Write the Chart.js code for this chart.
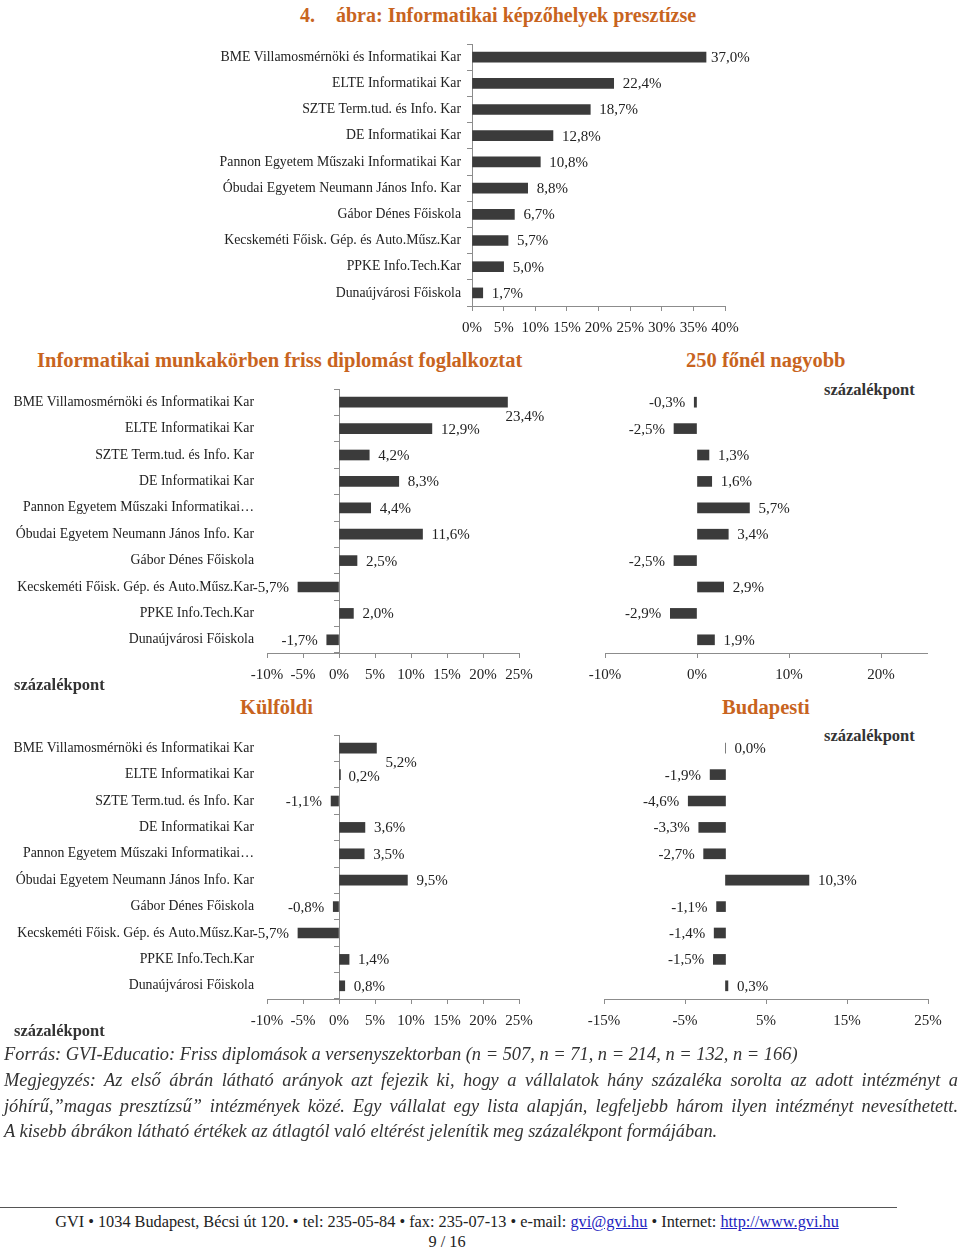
<!DOCTYPE html>
<html lang="hu">
<head>
<meta charset="utf-8">
<script src="https://cdn.jsdelivr.net/npm/chart.js@4.4.1/dist/chart.umd.min.js"></script>
<style>
  html, body { margin: 0; padding: 0; background: #fff; }
  body { width: 960px; height: 1251px; position: relative; overflow: hidden; font-family: 'Liberation Serif', serif; color: #222; }
  canvas { position: absolute; }
  .t { position: absolute; white-space: nowrap; }
  .orange { color: #c8641e; font-weight: bold; font-size: 20.5px; line-height: 22px; }
  .title { font-size: 20px; }
  .pp { font-weight: bold; font-size: 16.5px; line-height: 18px; color: #333; }
  .note { position: absolute; left: 4px; width: 954px; font-style: italic; font-size: 18.4px; line-height: 20px; color: #333; white-space: nowrap; }
  .just { text-align: justify; text-align-last: justify; white-space: normal; }
  .foot { position: absolute; left: 0; width: 894px; text-align: center; font-size: 16.3px; line-height: 17px; color: #222; }
  .foot a { color: #1f1fbf; text-decoration: underline; }
</style>
</head>
<body>
<div class="t orange title" style="left:300px; top:4px;">4.<span style="display:inline-block;width:21px"></span>ábra: Informatikai képzőhelyek presztízse</div>
<canvas id="c1" width="960" height="345" style="left:0;top:0"></canvas>

<div class="t orange" style="left:37px; top:349px;">Informatikai munkakörben friss diplomást foglalkoztat</div>
<div class="t orange" style="left:686px; top:349px;">250 főnél nagyobb</div>
<div class="t pp" style="left:824px; top:381px;">százalékpont</div>
<canvas id="c2" width="560" height="345" style="left:0;top:340px"></canvas>
<canvas id="c3" width="400" height="345" style="left:560px;top:340px"></canvas>
<div class="t pp" style="left:14px; top:676px;">százalékpont</div>

<div class="t orange" style="left:240px; top:696px;">Külföldi</div>
<div class="t orange" style="left:722px; top:696px;">Budapesti</div>
<div class="t pp" style="left:824px; top:727px;">százalékpont</div>
<canvas id="c4" width="560" height="345" style="left:0;top:690px"></canvas>
<canvas id="c5" width="400" height="345" style="left:560px;top:690px"></canvas>
<div class="t pp" style="left:14px; top:1022px;">százalékpont</div>

<div class="note" style="top:1044px;">Forrás: GVI-Educatio: Friss diplomások a versenyszektorban (n = 507, n = 71, n = 214, n = 132, n = 166)</div>
<div class="note just" style="top:1070px;">Megjegyzés: Az első ábrán látható arányok azt fejezik ki, hogy a vállalatok hány százaléka sorolta az adott intézményt a</div>
<div class="note just" style="top:1096px;">jóhírű,”magas presztízsű” intézmények közé. Egy vállalat egy lista alapján, legfeljebb három ilyen intézményt nevesíthetett.</div>
<div class="note" style="top:1121px;">A kisebb ábrákon látható értékek az átlagtól való eltérést jelenítik meg százalékpont formájában.</div>

<div style="position:absolute;left:0;top:1207px;width:897px;height:0;border-top:1.5px solid #555;"></div>
<div class="foot" style="top:1213px;">GVI • 1034 Budapest, Bécsi út 120. • tel: 235-05-84 • fax: 235-07-13 • e-mail: <a>gvi@gvi.hu</a> • Internet: <a>http://www.gvi.hu</a></div>
<div class="foot" style="top:1233px;">9 / 16</div>

<script>
// ---------- DATA ----------
const categories = [
  'BME Villamosmérnöki és Informatikai Kar',
  'ELTE Informatikai Kar',
  'SZTE Term.tud. és Info. Kar',
  'DE Informatikai Kar',
  'Pannon Egyetem Műszaki Informatikai Kar',
  'Óbudai Egyetem Neumann János Info. Kar',
  'Gábor Dénes Főiskola',
  'Kecskeméti Főisk. Gép. és Auto.Műsz.Kar',
  'PPKE Info.Tech.Kar',
  'Dunaújvárosi Főiskola'
];
const categoriesShort = [
  'BME Villamosmérnöki és Informatikai Kar',
  'ELTE Informatikai Kar',
  'SZTE Term.tud. és Info. Kar',
  'DE Informatikai Kar',
  'Pannon Egyetem Műszaki Informatikai…',
  'Óbudai Egyetem Neumann János Info. Kar',
  'Gábor Dénes Főiskola',
  'Kecskeméti Főisk. Gép. és Auto.Műsz.Kar',
  'PPKE Info.Tech.Kar',
  'Dunaújvárosi Főiskola'
];
const prestige      = [37.0, 22.4, 18.7, 12.8, 10.8, 8.8, 6.7, 5.7, 5.0, 1.7];
const itJobs        = [23.4, 12.9, 4.2, 8.3, 4.4, 11.6, 2.5, -5.7, 2.0, -1.7];
const over250       = [-0.3, -2.5, 1.3, 1.6, 5.7, 3.4, -2.5, 2.9, -2.9, 1.9];
const foreignOwned  = [5.2, 0.2, -1.1, 3.6, 3.5, 9.5, -0.8, -5.7, 1.4, 0.8];
const budapest      = [0.0, -1.9, -4.6, -3.3, -2.7, 10.3, -1.1, -1.4, -1.5, 0.3];

// ---------- STYLE ----------
const FONT = "'Liberation Serif', serif";
const BAR = '#3b3b3b';
const AXIS = '#8c8c8c';
const TXT = '#222';

const barLabels = {
  id: 'barLabels',
  afterDatasetsDraw(chart, args, opts) {
    const ctx = chart.ctx;
    const meta = chart.getDatasetMeta(0);
    const data = chart.data.datasets[0].data;
    const offs = opts.offsets || {};
    ctx.save();
    ctx.font = '15px ' + FONT;
    ctx.fillStyle = TXT;
    ctx.textBaseline = 'middle';
    meta.data.forEach((bar, i) => {
      const v = data[i];
      const o = offs[i] || [0, 0];
      const txt = v.toFixed(1).replace('.', ',') + '%';
      const dy = (opts.dy || 0) + o[1];
      if (v >= 0) { ctx.textAlign = 'left'; ctx.fillText(txt, bar.x + 9 + o[0], bar.y + dy); }
      else { ctx.textAlign = 'right'; ctx.fillText(txt, bar.x - 9 + o[0], bar.y + dy); }
    });
    ctx.restore();
  }
};

const pct = v => v + '%';

function makeChart(id, cfg) {
  const scales = {
    x: {
      type: 'linear', min: cfg.min, max: cfg.max,
      grid: { drawOnChartArea: false, drawTicks: true, tickLength: 5, color: AXIS },
      border: { display: true, color: AXIS },
      ticks: { stepSize: cfg.step, includeBounds: false, callback: pct, color: TXT, font: { family: FONT, size: 15 }, padding: cfg.tickPad || 6, maxRotation: 0, autoSkip: false },
      afterFit: s => { s.height = cfg.xh; }
    },
    y: {
      type: 'category', offset: true,
      display: cfg.labels ? true : false,
      grid: cfg.yAxisAtLeft ? { drawOnChartArea: false, drawTicks: true, tickLength: 5, color: AXIS, offset: true } : { display: false, drawTicks: false },
      border: { display: !!cfg.yAxisAtLeft, color: AXIS },
      ticks: { color: TXT, font: { family: FONT, size: 13.8 }, padding: cfg.labelPad, autoSkip: false },
      afterFit: s => { s.width = cfg.yw; }
    }
  };
  if (cfg.zeroAxis) {
    scales.y2 = {
      type: 'category', labels: cfg.labels, offset: true, position: { x: 0 },
      ticks: { display: false },
      grid: { drawOnChartArea: false, drawTicks: true, tickLength: 5, color: AXIS, offset: true },
      border: { display: true, color: AXIS }
    };
  }
  return new Chart(document.getElementById(id), {
    type: 'bar',
    data: {
      labels: cfg.labels || categories,
      datasets: [{ data: cfg.data, backgroundColor: BAR, borderWidth: 0, barThickness: 10 }]
    },
    options: {
      indexAxis: 'y', responsive: false, animation: false, devicePixelRatio: 1,
      layout: { padding: cfg.padding },
      plugins: { legend: { display: false }, tooltip: { enabled: false }, barLabels: { offsets: cfg.offsets, dy: cfg.dy || 0 } },
      scales
    },
    plugins: [barLabels]
  });
}

// Chart 1: prestige
makeChart('c1', {
  data: prestige, labels: categories, min: 0, max: 40, step: 5,
  yw: 472, xh: 39, labelPad: 6, yAxisAtLeft: true, tickPad: 8,
  padding: { left: 0, top: 44, right: 235, bottom: 0 },
  offsets: { 0: [-4, 0] }, dy: 1
});
// Chart 2: IT jobs
makeChart('c2', {
  data: itJobs, labels: categoriesShort, min: -10, max: 25, step: 5,
  yw: 267, xh: 32, labelPad: 13, zeroAxis: true, tickPad: 8,
  padding: { left: 0, top: 49, right: 41, bottom: 0 },
  offsets: { 0: [-11, 14] }, dy: 1
});
// Chart 3: >250 employees
makeChart('c3', {
  data: over250, labels: null, min: -10, max: 25, step: 10,
  yw: 0, xh: 32, tickPad: 8,
  padding: { left: 45, top: 49, right: 33, bottom: 0 }, dy: 1
});
// Chart 4: foreign owned
makeChart('c4', {
  data: foreignOwned, labels: categoriesShort, min: -10, max: 25, step: 5,
  yw: 267, xh: 36, labelPad: 13, zeroAxis: true, tickPad: 8,
  padding: { left: 0, top: 45, right: 41, bottom: 0 },
  offsets: { 0: [0, 14], 1: [-1, 1] }, dy: 1
});
// Chart 5: Budapest
makeChart('c5', {
  data: budapest, labels: null, min: -15, max: 25, step: 10,
  yw: 0, xh: 36, tickPad: 8,
  padding: { left: 44, top: 45, right: 32, bottom: 0 }, dy: 1
});
</script>
</body>
</html>
